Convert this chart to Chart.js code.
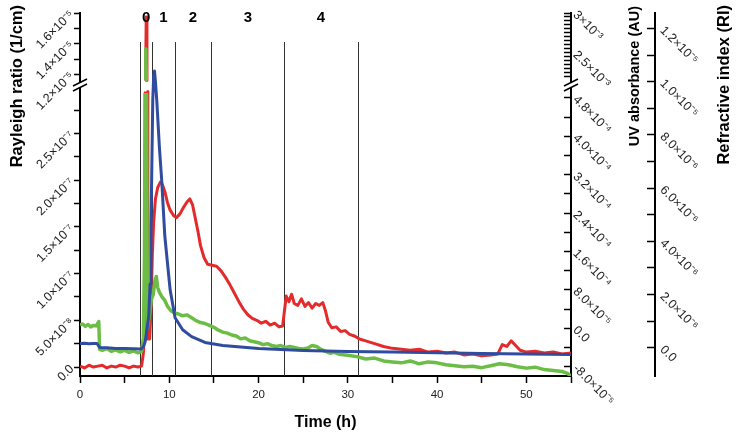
<!DOCTYPE html>
<html>
<head>
<meta charset="utf-8">
<script src="https://cdn.jsdelivr.net/npm/chart.js@4.4.0/dist/chart.umd.min.js"></script>
<style>
  html, body { margin: 0; padding: 0; background: #fff; }
  #wrap { width: 736px; height: 440px; }
</style>
</head>
<body>
<div id="wrap"><canvas id="chart" width="736" height="440"></canvas></div>
<script>
// ---- data ----
const rayleighTime = [
  0, 0.5, 1, 1.5, 2, 2.5, 3, 3.5, 4, 4.5,
  5, 5.5, 6, 6.5, 6.9, 7.1, 7.25, 7.32, 7.33, 7.34,
  7.42, 7.5, 7.51, 7.52, 7.6, 7.8, 7.95, 8.1, 8.25, 8.45,
  8.7, 9.0, 9.2, 9.5, 9.8, 10.1, 10.5, 10.8, 11.2, 11.6,
  12.0, 12.3, 12.6, 12.9, 13.2, 13.5, 13.9, 14.3, 14.8, 15.3,
  15.8, 16.3, 16.8, 17.3, 17.8, 18.3, 18.8, 19.3, 19.8, 20.3,
  20.8, 21.3, 21.8, 22.3, 22.7, 22.9, 23.1, 23.4, 23.7, 24.0,
  24.4, 24.8, 25.2, 25.6, 26.0, 26.4, 26.8, 27.2, 27.5, 27.8,
  28.2, 28.7, 29.2, 29.7, 30.2, 30.8, 31.3, 32, 33, 34,
  35, 36, 37, 38, 39, 40, 41, 42, 43, 44,
  45, 46, 46.8, 47.3, 47.8, 48.3, 48.8, 49.3, 50, 51,
  52, 53, 54, 55
];
const rayleighValue = [
  1e-9, -1e-9, 2e-9, 0, 1e-9, 2e-9, -1e-9, 1e-9, 0, 2e-9,
  1e-9, -1e-9, 1e-9, 0, 1e-9, 1.5e-8, 4e-8, 2.95e-7, null, 1.16e-5,
  1.574e-5, 1.16e-5, null, 2.95e-7, 3e-8, 3e-8, 6e-8, 1.2e-7, 1.55e-7, 1.8e-7,
  1.92e-7, 1.98e-7, 1.96e-7, 1.88e-7, 1.76e-7, 1.68e-7, 1.62e-7, 1.6e-7, 1.64e-7, 1.71e-7,
  1.77e-7, 1.8e-7, 1.74e-7, 1.6e-7, 1.46e-7, 1.3e-7, 1.17e-7, 1.1e-7, 1.09e-7, 1.08e-7,
  1.03e-7, 9.6e-8, 8.8e-8, 7.9e-8, 7.0e-8, 6.2e-8, 5.6e-8, 5.2e-8, 5.0e-8, 4.7e-8,
  4.9e-8, 4.5e-8, 4.7e-8, 4.3e-8, 4.4e-8, 6.0e-8, 7.6e-8, 7.0e-8, 7.8e-8, 6.8e-8,
  6.6e-8, 7.3e-8, 6.5e-8, 6.9e-8, 6.3e-8, 6.8e-8, 6.6e-8, 6.9e-8, 6.0e-8, 4.8e-8,
  4.2e-8, 4.3e-8, 3.8e-8, 3.9e-8, 3.5e-8, 3.3e-8, 3.0e-8, 2.8e-8, 2.5e-8, 2.2e-8,
  2.0e-8, 1.9e-8, 1.8e-8, 1.9e-8, 1.6e-8, 1.7e-8, 1.5e-8, 1.6e-8, 1.3e-8, 1.4e-8,
  1.2e-8, 1.3e-8, 1.4e-8, 2.4e-8, 2.2e-8, 2.8e-8, 2.3e-8, 1.8e-8, 1.6e-8, 1.7e-8,
  1.5e-8, 1.6e-8, 1.4e-8, 1.5e-8
];

const uvTime = [
  0, 0.3, 0.6, 0.9, 1.2, 1.5, 1.8, 2.1, 2.2, 2.5,
  3, 3.5, 4, 4.5, 5, 5.5, 6, 6.5, 6.9, 7.1,
  7.22, 7.29, 7.3, 7.31, 7.37, 7.43, 7.44, 7.45, 7.55, 7.8,
  8.0, 8.2, 8.4, 8.55, 8.7, 8.9, 9.2, 9.5, 9.8, 10.2,
  10.6, 11.0, 11.5, 12, 12.5, 13, 13.5, 14, 14.5, 15,
  15.5, 16, 16.5, 17, 17.5, 18, 18.5, 19, 19.5, 20,
  20.5, 21, 21.5, 22, 22.5, 23, 23.5, 24, 24.5, 25,
  25.5, 26, 26.5, 27, 27.5, 28, 28.5, 29, 30, 31,
  32, 33, 34, 35, 36, 37, 38, 39, 40, 41,
  42, 43, 44, 45, 46, 47, 48, 49, 50, 51,
  52, 53, 54, 54.6, 55
];
const uvValue = [
  7e-6, 9e-6, 4e-6, 8e-6, 3e-6, 6e-6, 5e-6, 1.4e-5, -4.4e-5, -4.6e-5,
  -4.2e-5, -4.8e-5, -4.5e-5, -4.9e-5, -4.6e-5, -5.0e-5, -4.7e-5, -5.1e-5, -4.8e-5, -2e-5,
  1.5e-4, 4.9e-4, null, 2.16e-3, 2.55e-3, 2.16e-3, null, 4.9e-4, 0, 3e-5,
  6e-5, 7e-5, 1.0e-4, 1.08e-4, 8.5e-5, 7.5e-5, 6.5e-5, 5.8e-5, 4.6e-5, 3.6e-5,
  3.2e-5, 3.0e-5, 2.6e-5, 2.8e-5, 2.2e-5, 1.6e-5, 1.2e-5, 1.0e-5, 6e-6, 2e-6,
  -4e-6, -8e-6, -1e-5, -1.4e-5, -1.6e-5, -2.2e-5, -2.0e-5, -2.6e-5, -2.8e-5, -3.0e-5,
  -3.4e-5, -3.2e-5, -3.6e-5, -3.8e-5, -3.6e-5, -4.0e-5, -3.8e-5, -4.0e-5, -4.2e-5, -4.3e-5,
  -4.1e-5, -3.6e-5, -3.8e-5, -4.4e-5, -4.8e-5, -5.2e-5, -5.0e-5, -5.4e-5, -5.6e-5, -5.9e-5,
  -6.4e-5, -6.2e-5, -6.8e-5, -7.0e-5, -7.2e-5, -6.8e-5, -7.4e-5, -7.0e-5, -7.2e-5, -7.6e-5,
  -7.8e-5, -8.0e-5, -7.9e-5, -8.2e-5, -7.8e-5, -7.4e-5, -7.6e-5, -8.0e-5, -8.3e-5, -8.1e-5,
  -8.6e-5, -8.8e-5, -9.0e-5, -9.4e-5, -1.0e-4
];

const riTime = [
  0, 0.5, 1, 1.5, 1.9, 2.2, 3, 4, 5, 6,
  6.9, 7.1, 7.3, 7.5, 7.7, 7.85, 7.95, 8.05, 8.15, 8.25,
  8.35, 8.45, 8.6, 8.9, 9.15, 9.5, 10.1, 10.65, 11.5, 12.5,
  14, 16, 18, 20, 25, 30, 35, 40, 45, 50,
  55
];
const riValue = [
  1.6e-7, 1.7e-7, 1.5e-7, 1.6e-7, 1.6e-7, 1e-8, 0, -2.6e-8, -3e-8, -4e-8,
  -4.5e-8, 5e-8, 2.3e-7, 6.8e-7, 1.2e-6, 2.4e-6, 4.5e-6, 6.9e-6, 9.3e-6, 1.02e-5,
  1.04e-5, 1.0e-5, 9.3e-6, 7.5e-6, 6.3e-6, 4.2e-6, 2.17e-6, 1.13e-6, 6.8e-7, 4.2e-7,
  2.0e-7, 8.5e-8, 3e-8, -2.6e-8, -1e-7, -1.4e-7, -1.56e-7, -1.9e-7, -2.1e-7, -2.3e-7,
  -2.5e-7
];

// fraction boundaries (h) and their labels
const fractionEdges = [6.7, 8.1, 10.6, 14.7, 22.9, 31.1];
const fractionLabels = ['0', '1', '2', '3', '4'];

// tick values and labels
const timeTicks = [0, 5, 10, 15, 20, 25, 30, 35, 40, 45, 50, 55];
const timeTickLabels = ['0', '', '10', '', '20', '', '30', '', '40', '', '50', ''];

const rayleighTicks = [0, 2.5e-8, 5e-8, 7.5e-8, 1e-7, 1.25e-7, 1.5e-7, 1.75e-7, 2e-7, 2.25e-7, 2.5e-7, 2.75e-7,
  1.2e-5, 1.3e-5, 1.4e-5, 1.5e-5, 1.6e-5];
const rayleighTickLabels = ['0.0', '', '5.0×10⁻⁸', '', '1.0×10⁻⁷', '', '1.5×10⁻⁷', '', '2.0×10⁻⁷', '', '2.5×10⁻⁷', '',
  '1.2×10⁻⁵', '', '1.4×10⁻⁵', '', '1.6×10⁻⁵'];

const uvTicks = [-8e-5, -4e-5, 0, 4e-5, 8e-5, 1.2e-4, 1.6e-4, 2.0e-4, 2.4e-4, 2.8e-4, 3.2e-4, 3.6e-4, 4.0e-4, 4.4e-4, 4.8e-4,
  2.20e-3, 2.25e-3, 2.30e-3, 2.35e-3, 2.40e-3, 2.45e-3, 2.50e-3, 2.55e-3, 2.60e-3, 2.65e-3, 2.70e-3, 2.75e-3, 2.80e-3, 2.85e-3, 2.90e-3, 2.95e-3, 3.00e-3];
const uvTickLabels = ['-8.0×10⁻⁵', '', '0.0', '', '8.0×10⁻⁵', '', '1.6×10⁻⁴', '', '2.4×10⁻⁴', '', '3.2×10⁻⁴', '', '4.0×10⁻⁴', '', '4.8×10⁻⁴',
  '', '', '', '', '', '', '2.5×10⁻³', '', '', '', '', '', '', '', '', '', '3×10⁻³'];

const riTicks = [0, 1e-6, 2e-6, 3e-6, 4e-6, 5e-6, 6e-6, 7e-6, 8e-6, 9e-6, 1e-5, 1.1e-5, 1.2e-5];
const riTickLabels = ['0.0', '', '2.0×10⁻⁶', '', '4.0×10⁻⁶', '', '6.0×10⁻⁶', '', '8.0×10⁻⁶', '', '1.0×10⁻⁵', '', '1.2×10⁻⁵'];

// ---- broken-axis scale ----
const breakLayout = {
  y:  { lowBottom: -9.6e-9, lowTop: 2.977e-7, highBottom: 1.157e-5, highTop: 1.6e-5, lowShare: 0.7906, highShare: 0.1873 },
  uv: { lowBottom: -9.94e-5, lowTop: 4.985e-4, highBottom: 2.15e-3, highTop: 3.0e-3, lowShare: 0.7906, highShare: 0.1873 }
};
const tickSets = {
  y: rayleighTicks,
  uv: uvTicks
};

class BrokenScale extends Chart.LinearScale {
  buildTicks() {
    return tickSets[this.id].map(v => ({ value: v }));
  }
  getPixelForValue(v) {
    if (v === null || v === undefined || isNaN(v)) return NaN;
    const b = breakLayout[this.id];
    const h = this.bottom - this.top;
    if (v <= b.lowTop) {
      return this.bottom - (v - b.lowBottom) / (b.lowTop - b.lowBottom) * h * b.lowShare;
    }
    if (v >= b.highBottom) {
      return this.top + (b.highTop - v) / (b.highTop - b.highBottom) * h * b.highShare;
    }
    return this.gapCenter();
  }
  gapCenter() {
    const b = breakLayout[this.id];
    const h = this.bottom - this.top;
    return this.top + h * (b.highShare + (1 - b.lowShare - b.highShare) / 2);
  }
}
BrokenScale.id = 'broken';
BrokenScale.defaults = Chart.LinearScale.defaults;
Chart.register(BrokenScale);

const FONT = "'Liberation Sans', Arial, sans-serif";
const RED = '#e32b2b';
const GREEN = '#6cbd45';
const BLUE = '#2f4c9f';

const sideTitles = [
  { scale: 'y', text: 'Rayleigh ratio (1/cm)', dx: 17.5, top: 5, size: 16.5 },
  { scale: 'uv', text: 'UV absorbance (AU)', dx: 64, top: 6, size: 14.5 },
  { scale: 'ri', text: 'Refractive index (RI)', dx: 69, top: 5, size: 16.5 }
];

const decorPlugin = {
  id: 'decor',
  beforeDatasetsDraw(chart) {
    const { ctx, chartArea, scales } = chart;
    ctx.save();
    ctx.strokeStyle = '#333';
    ctx.lineWidth = 1;
    fractionEdges.forEach(t => {
      const px = Math.round(scales.x.getPixelForValue(t)) + 0.5;
      ctx.beginPath();
      ctx.moveTo(px, chartArea.top + 29);
      ctx.lineTo(px, chartArea.bottom);
      ctx.stroke();
    });
    ctx.restore();
  },
  afterDraw(chart) {
    const { ctx, scales } = chart;
    ctx.save();
    // fraction numbers
    ctx.fillStyle = '#000';
    ctx.font = 'bold 15px ' + FONT;
    ctx.textAlign = 'center';
    ctx.textBaseline = 'middle';
    fractionLabels.forEach((lab, i) => {
      const mid = (fractionEdges[i] + fractionEdges[i + 1]) / 2;
      ctx.fillText(lab, scales.x.getPixelForValue(mid), 18);
    });
    // vertical axis titles, reading bottom to top
    sideTitles.forEach(t => {
      const s = scales[t.scale];
      ctx.save();
      ctx.font = 'bold ' + t.size + 'px ' + FONT;
      ctx.translate(s.left + t.dx, t.top);
      ctx.rotate(-Math.PI / 2);
      ctx.textAlign = 'right';
      ctx.textBaseline = 'middle';
      ctx.fillText(t.text, 0, 0);
      ctx.restore();
    });
    // axis break marks
    ['y', 'uv'].forEach(id => {
      const s = scales[id];
      const yc = s.gapCenter();
      const xc = id === 'y' ? s.right : s.left;
      ctx.fillStyle = '#fff';
      ctx.beginPath();
      ctx.moveTo(xc - 7, yc + 1);
      ctx.lineTo(xc + 7, yc - 6);
      ctx.lineTo(xc + 7, yc - 1);
      ctx.lineTo(xc - 7, yc + 6);
      ctx.closePath();
      ctx.fill();
      ctx.strokeStyle = '#000';
      ctx.lineWidth = 1.5;
      ctx.beginPath();
      ctx.moveTo(xc - 7, yc + 1);
      ctx.lineTo(xc + 7, yc - 6);
      ctx.moveTo(xc - 7, yc + 6);
      ctx.lineTo(xc + 7, yc - 1);
      ctx.stroke();
    });
    ctx.restore();
  }
};

function series(times, values) {
  return times.map((t, i) => ({ x: t, y: values[i] }));
}

const tickFont = { family: FONT, size: 12.5 };
const axisGrid = (len) => ({ drawOnChartArea: false, drawTicks: true, tickLength: len, tickColor: '#000', tickWidth: 1.5 });
const axisBorder = { display: true, color: '#000', width: 2 };

new Chart(document.getElementById('chart'), {
  type: 'line',
  data: {
    datasets: [
      { label: 'RI', data: series(riTime, riValue), yAxisID: 'ri', borderColor: BLUE, borderWidth: 3, order: 0 },
      { label: 'UV', data: series(uvTime, uvValue), yAxisID: 'uv', borderColor: GREEN, borderWidth: 3.5, order: 1 },
      { label: 'Rayleigh', data: series(rayleighTime, rayleighValue), yAxisID: 'y', borderColor: RED, borderWidth: 3, order: 2 }
    ]
  },
  options: {
    responsive: false,
    animation: false,
    events: [],
    spanGaps: false,
    layout: { padding: { top: 13, left: 0, right: 0, bottom: 0 } },
    elements: { point: { radius: 0 }, line: { tension: 0, borderJoinStyle: 'round' } },
    plugins: { legend: { display: false }, tooltip: { enabled: false } },
    scales: {
      x: {
        type: 'linear', position: 'bottom', min: 0, max: 55,
        afterBuildTicks: s => { s.ticks = timeTicks.map(v => ({ value: v })); },
        ticks: { autoSkip: false, maxRotation: 0, minRotation: 0, padding: 5, color: '#222', font: { family: FONT, size: 11.5 },
                 callback: (v, i) => timeTickLabels[i] },
        grid: axisGrid(7),
        border: axisBorder,
        title: { display: true, text: 'Time (h)', color: '#000', font: { family: FONT, size: 16, weight: 'bold' },
                 padding: { top: 0, bottom: 8 } },
        afterFit: s => { s.height = 64; s.paddingLeft = 0; s.paddingRight = 0; }
      },
      y: {
        type: 'broken', position: 'left',
        min: breakLayout.y.lowBottom, max: breakLayout.y.highTop,
        ticks: { autoSkip: false, minRotation: 45, maxRotation: 45, padding: 2, color: '#222', font: tickFont,
                 callback: (v, i) => rayleighTickLabels[i] },
        grid: axisGrid(6),
        border: axisBorder,
        afterFit: s => { s.width = 80; s.paddingTop = 0; s.paddingBottom = 0; }
      },
      uv: {
        type: 'broken', position: 'right', weight: 0,
        min: breakLayout.uv.lowBottom, max: breakLayout.uv.highTop,
        ticks: { autoSkip: false, minRotation: -45, maxRotation: -45, padding: 11, color: '#222', font: tickFont,
                 callback: (v, i) => uvTickLabels[i] },
        grid: axisGrid(-7),
        border: axisBorder,
        afterFit: s => { s.width = 84; s.paddingTop = 0; s.paddingBottom = 0; }
      },
      ri: {
        type: 'linear', position: 'right', weight: 1,
        min: -1.06e-6, max: 1.258e-5,
        afterBuildTicks: s => { s.ticks = riTicks.map(v => ({ value: v })); },
        ticks: { autoSkip: false, minRotation: -45, maxRotation: -45, padding: 15, color: '#222', font: tickFont,
                 callback: (v, i) => riTickLabels[i] },
        grid: axisGrid(-8),
        border: axisBorder,
        afterFit: s => { s.width = 81; s.paddingTop = 0; s.paddingBottom = 0; }
      }
    }
  },
  plugins: [decorPlugin]
});
</script>
</body>
</html>
